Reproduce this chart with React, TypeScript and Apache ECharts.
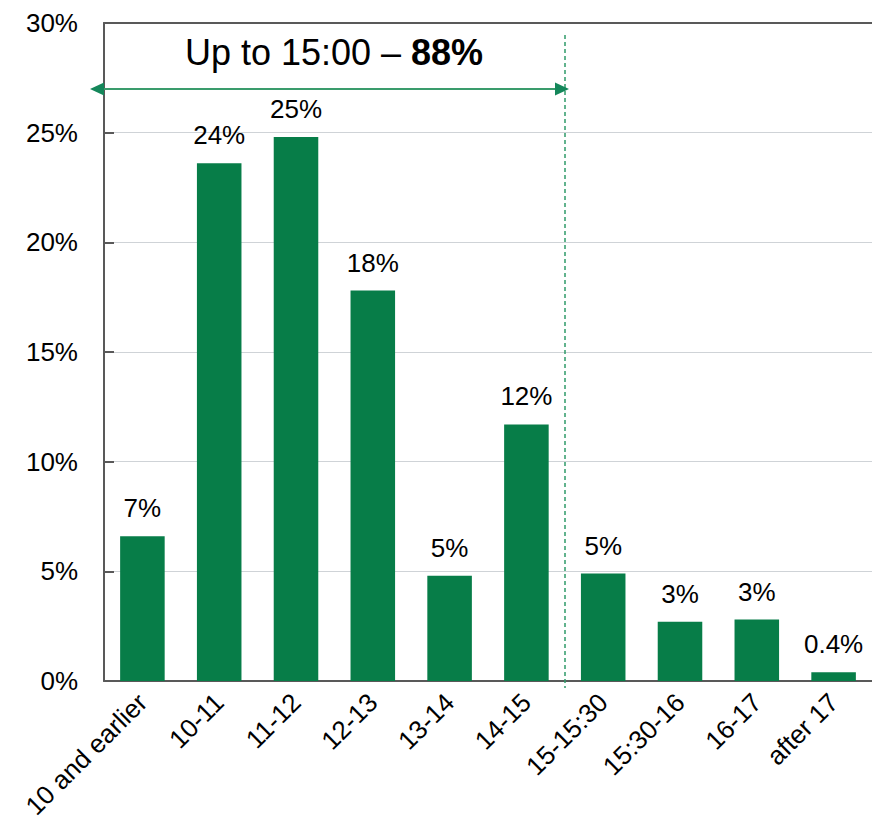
import React, { useEffect, useRef } from "react";
import * as echarts from "echarts";

// Share of orders by time of day, in percent
const categories = [
  "10 and earlier",
  "10-11",
  "11-12",
  "12-13",
  "13-14",
  "14-15",
  "15-15:30",
  "15:30-16",
  "16-17",
  "after 17",
];
const shares = [6.6, 23.6, 24.8, 17.8, 4.8, 11.7, 4.9, 2.7, 2.8, 0.4];
const yTicks = { min: 0, max: 30, interval: 5 };
const titleLead = "Up to 15:00 – ";
const titleShare = "88%";

const FONT = 'Arial, "Liberation Sans", sans-serif';
const GREEN = "#077d48";
const AXIS = "#595959";

export default function App() {
  const ref = useRef<HTMLDivElement>(null);

  useEffect(() => {
    if (!ref.current) return;
    const chart = echarts.init(ref.current, undefined, { renderer: "svg" });

    const fmt = (v: number) => (v < 1 ? v.toFixed(1) : String(Math.round(v))) + "%";

    chart.setOption({
      animation: false,
      backgroundColor: "#ffffff",
      textStyle: { fontFamily: FONT },
      grid: {
        left: 104,
        top: 23,
        width: 775,
        height: 658,
      },
      xAxis: [
        {
          type: "category",
          data: categories,
          axisLine: { lineStyle: { color: AXIS, width: 2 } },
          axisTick: { inside: true, length: 8, alignWithLabel: false, lineStyle: { color: AXIS, width: 2 } },
          axisLabel: {
            rotate: 45,
            interval: 0,
            margin: 17,
            fontSize: 26,
            color: "#000000",
            fontFamily: FONT,
          },
        },
        {
          // top frame line of the plot area
          type: "category",
          data: categories,
          position: "top",
          axisLine: { show: true, lineStyle: { color: AXIS, width: 2 } },
          axisTick: { show: false },
          axisLabel: { show: false },
        },
      ],
      yAxis: {
        type: "value",
        min: yTicks.min,
        max: yTicks.max,
        interval: yTicks.interval,
        axisLine: { show: true, lineStyle: { color: AXIS, width: 2 } },
        axisTick: { show: true, inside: true, length: 10, lineStyle: { color: AXIS, width: 2 } },
        splitLine: { lineStyle: { color: "#cfd3d7", width: 1.2 } },
        axisLabel: {
          margin: 26,
          fontSize: 26,
          color: "#000000",
          fontFamily: FONT,
          formatter: (v: number) => v + "%",
        },
      },
      series: [
        {
          type: "bar",
          data: shares,
          barCategoryGap: "42%",
          itemStyle: { color: GREEN },
          label: {
            show: true,
            position: "top",
            distance: 15,
            fontSize: 26,
            color: "#000000",
            fontFamily: FONT,
            formatter: (p: any) => fmt(p.value),
          },
        },
      ],
      graphic: [
        // cut-off marker at 15:00
        {
          type: "line",
          shape: { x1: 565, y1: 35, x2: 565, y2: 688 },
          style: { stroke: "#2f9a69", lineWidth: 1.5, lineDash: [4, 3] },
          z: 10,
        },
        // span arrow
        {
          type: "line",
          shape: { x1: 100, y1: 89, x2: 558, y2: 89 },
          style: { stroke: "#3a9c6c", lineWidth: 2 },
          z: 10,
        },
        {
          type: "polygon",
          shape: { points: [[90, 89], [104, 82.5], [104, 95.5]] },
          style: { fill: "#14875a" },
          z: 10,
        },
        {
          type: "polygon",
          shape: { points: [[569, 89], [555, 82.5], [555, 95.5]] },
          style: { fill: "#14875a" },
          z: 10,
        },
        {
          type: "text",
          x: 334,
          y: 52,
          style: {
            text: "{a|" + titleLead + "}{b|" + titleShare + "}",
            align: "center",
            verticalAlign: "middle",
            rich: {
              a: { fontSize: 36, fontFamily: FONT, fill: "#000000", fontWeight: "normal" },
              b: { fontSize: 36, fontFamily: FONT, fill: "#000000", fontWeight: "bold" },
            },
          },
          z: 10,
        },
      ],
    });

    return () => chart.dispose();
  }, []);

  return (
    <div
      ref={ref}
      style={{ position: "fixed", left: 0, top: 0, width: 872, height: 838, overflow: "hidden", background: "#fff" }}
    />
  );
}
